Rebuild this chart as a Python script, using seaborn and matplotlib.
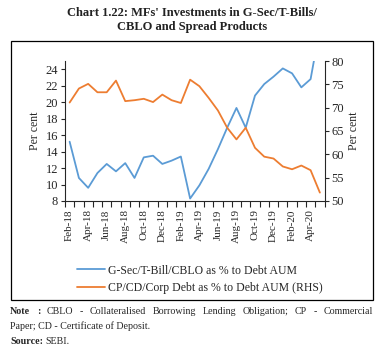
import matplotlib
matplotlib.use('Agg')
import matplotlib.pyplot as plt
from matplotlib.patches import Rectangle
from matplotlib.ticker import FixedLocator, NullFormatter
import seaborn as sns
import pandas as pd
import numpy as np

months = ['Feb-18', 'Mar-18', 'Apr-18', 'May-18', 'Jun-18', 'Jul-18', 'Aug-18',
          'Sep-18', 'Oct-18', 'Nov-18', 'Dec-18', 'Jan-19', 'Feb-19', 'Mar-19',
          'Apr-19', 'May-19', 'Jun-19', 'Jul-19', 'Aug-19', 'Sep-19', 'Oct-19',
          'Nov-19', 'Dec-19', 'Jan-20', 'Feb-20', 'Mar-20', 'Apr-20', 'May-20']

gsec = [15.2, 10.8, 9.6, 11.4, 12.5, 11.6, 12.6, 10.8, 13.3, 13.5, 12.5, 12.9,
        13.4, 8.3, 9.9, 11.9, 14.3, 16.9, 19.3, 16.9, 20.8, 22.2, 23.1, 24.1,
        23.5, 21.8, 22.8, 29.0]

corp = [71.1, 74.1, 75.1, 73.3, 73.3, 75.8, 71.4, 71.6, 71.9, 71.2, 72.8, 71.6,
        71.0, 76.0, 74.6, 72.1, 69.4, 65.7, 63.2, 65.7, 61.4, 59.5, 59.1, 57.4,
        56.8, 57.6, 56.6, 51.8]

lbl_gsec = 'G-Sec/T-Bill/CBLO as % to Debt AUM'
lbl_corp = 'CP/CD/Corp Debt as % to Debt AUM (RHS)'

df = pd.DataFrame({'idx': np.arange(len(months)), 'month': months,
                   'gsec': gsec, 'corp': corp})

sns.set_style('ticks')
plt.rcParams['font.family'] = ['Liberation Serif', 'DejaVu Serif']

W, H = 380, 353
fig = plt.figure(figsize=(3.8, 3.53), dpi=100)

def fx(px):
    return px / W

def fy(py):
    return 1 - py / H

ax = fig.add_axes([fx(65), fy(201), fx(324.5) - fx(65), fy(61) - fy(201)])
ax2 = ax.twinx()

blue = '#5b9bd5'
orange = '#ed7d31'

sns.lineplot(data=df, x='idx', y='gsec', ax=ax, color=blue, linewidth=1.3,
             label=lbl_gsec, legend=False)
sns.lineplot(data=df, x='idx', y='corp', ax=ax2, color=orange, linewidth=1.3,
             label=lbl_corp, legend=False)

ax.set_xlim(-0.5, len(months) - 0.5)
ax.set_ylim(8, 25)
ax2.set_ylim(50, 80)
ax.set_yticks(range(8, 25, 2))
ax2.set_yticks(range(50, 81, 5))

ax.set_xticks(df['idx'][::2])
ax.set_xticklabels(months[::2], rotation=90)
ax.xaxis.set_minor_locator(FixedLocator(np.arange(-0.5, len(months), 1)))
ax.xaxis.set_minor_formatter(NullFormatter())
ax.tick_params(axis='x', which='major', length=0, pad=6, labelsize=8)
ax.tick_params(axis='x', which='minor', length=4, width=0.8)
ax.tick_params(axis='y', length=3, width=0.8, labelsize=9, pad=2)
ax2.tick_params(axis='y', length=3, width=0.8, labelsize=9, pad=2)

ax.set_xlabel('')
ax.set_ylabel('Per cent', fontsize=8.5, labelpad=3)
ax2.set_ylabel('Per cent', fontsize=8.5, labelpad=3)

for a in (ax, ax2):
    a.spines['top'].set_visible(False)
    for s in ('left', 'right', 'bottom'):
        a.spines[s].set_linewidth(0.8)
ax.spines['right'].set_visible(False)
ax2.spines['left'].set_visible(False)
ax2.spines['bottom'].set_visible(False)

h1, l1 = ax.get_legend_handles_labels()
h2, l2 = ax2.get_legend_handles_labels()
fig.legend(h1 + h2, l1 + l2, loc='upper left',
           bbox_to_anchor=(fx(66), fy(254)), frameon=False, fontsize=8.5,
           handlelength=2.4, handletextpad=0.3, labelspacing=0.45)

fig.patches.append(Rectangle((fx(10.5), fy(299.5)), fx(373) - fx(10.5),
                             fy(40.5) - fy(299.5), transform=fig.transFigure,
                             fill=False, edgecolor='black', linewidth=0.9))

fig.text(0.505, fy(13), "Chart 1.22: MFs' Investments in G-Sec/T-Bills/",
         ha='center', va='center', fontsize=9, fontweight='bold', color='#222222')
fig.text(0.505, fy(27), 'CBLO and Spread Products',
         ha='center', va='center', fontsize=9, fontweight='bold', color='#222222')

# justified first note line
renderer = fig.canvas.get_renderer()
note_words = [('Note', 'bold'), (':', 'bold'), ('CBLO', 'normal'), ('-', 'normal'),
              ('Collateralised', 'normal'), ('Borrowing', 'normal'),
              ('Lending', 'normal'), ('Obligation;', 'normal'), ('CP', 'normal'),
              ('-', 'normal'), ('Commercial', 'normal')]
objs = [fig.text(0, fy(312), w, fontsize=7.2, fontweight=fw, va='center')
        for w, fw in note_words]
widths = [o.get_window_extent(renderer).width for o in objs]
gap = (373 - 10 - sum(widths)) / (len(objs) - 1)
x = 10
for o, wd in zip(objs, widths):
    o.set_x(fx(x))
    x += wd + gap

fig.text(fx(10), fy(326), 'Paper; CD - Certificate of Deposit.', fontsize=7.2, va='center')
src = fig.text(fx(10), fy(341), 'Source:', fontsize=7.2, fontweight='bold', va='center')
src_w = src.get_window_extent(renderer).width
fig.text(fx(10 + src_w + 2), fy(341), 'SEBI.', fontsize=7.2, va='center')

plt.savefig('out.png', dpi=100)
